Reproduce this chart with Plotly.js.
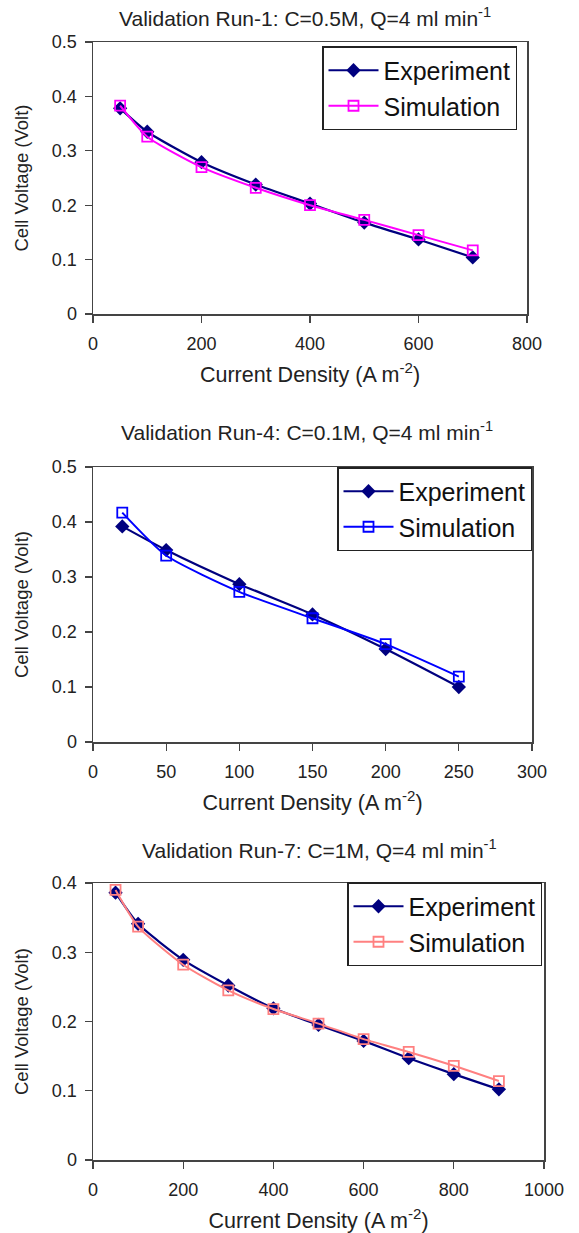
<!DOCTYPE html>
<html>
<head>
<meta charset="utf-8">
<script src="https://cdn.plot.ly/plotly-3.0.1.min.js"></script>
<style>html,body{margin:0;padding:0;background:#fff;}#chart{width:579px;height:1233px;}</style>
</head>
<body>
<div id="chart"></div>
<script>
// ---- data ----
const run1X = [50, 100, 200, 300, 400, 500, 600, 700];
const run1Exp = [0.378, 0.335, 0.279, 0.238, 0.203, 0.168, 0.137, 0.104];
const run1Sim = [0.383, 0.326, 0.270, 0.232, 0.200, 0.173, 0.145, 0.117];

const run4X = [20, 50, 100, 150, 200, 250];
const run4Exp = [0.392, 0.349, 0.287, 0.232, 0.169, 0.100];
const run4Sim = [0.417, 0.339, 0.273, 0.225, 0.178, 0.119];

const run7X = [50, 100, 200, 300, 400, 500, 600, 700, 800, 900];
const run7Exp = [0.386, 0.341, 0.289, 0.252, 0.219, 0.195, 0.172, 0.147, 0.124, 0.102];
const run7Sim = [0.390, 0.337, 0.282, 0.245, 0.218, 0.197, 0.1745, 0.156, 0.136, 0.114];

const panelTitles = [
  "Validation Run-1: C=0.5M, Q=4 ml min<sup>-1</sup>",
  "Validation Run-4: C=0.1M, Q=4 ml min<sup>-1</sup>",
  "Validation Run-7: C=1M, Q=4 ml min<sup>-1</sup>"
];
const xTitle = "Current Density (A m<sup>-2</sup>)";
const yTitle = "Cell Voltage (Volt)";
const seriesNames = ["Experiment", "Simulation"];
const simColors = ["#ff00ff", "#0000ff", "#ff8080"];
const expColor = "#00007f";

// ---- layout geometry (px) ----
const W = 579, H = 1233;
const panels = [
  {x: run1X, e: run1Exp, s: run1Sim, left: 93, right: 527, top: 42, bottom: 314, xr: [0, 800], xd: 200, yr: [0, 0.5],
   titleY: 17, titleX: 305, legL: 322, legT: 46},
  {x: run4X, e: run4Exp, s: run4Sim, left: 93, right: 532, top: 467, bottom: 742, xr: [0, 300], xd: 50, yr: [0, 0.5],
   titleY: 431, titleX: 307, legL: 337, legT: 467},
  {x: run7X, e: run7Exp, s: run7Sim, left: 93, right: 544, top: 883, bottom: 1160, xr: [0, 1000], xd: 200, yr: [0, 0.4],
   titleY: 849, titleX: 319, legL: 347, legT: 882}
];

const FONT = "Liberation Sans, Arial, sans-serif";
const traces = [];
const layout = {
  width: W, height: H,
  margin: {l: 0, r: 0, t: 0, b: 0},
  paper_bgcolor: "#fff", plot_bgcolor: "#fff",
  font: {family: FONT, color: "#111"},
  showlegend: true,
  annotations: []
};

panels.forEach((p, i) => {
  const n = i === 0 ? "" : String(i + 1);
  const xa = "x" + n, ya = "y" + n;
  const leg = "legend" + n;
  traces.push({
    x: p.x, y: p.e, xaxis: xa, yaxis: ya, legend: leg, name: seriesNames[0],
    mode: "lines+markers", type: "scatter",
    line: {color: expColor, width: 2.2, shape: "spline", smoothing: 0.6},
    marker: {symbol: "diamond", size: 11, color: expColor}
  });
  traces.push({
    x: p.x, y: p.s, xaxis: xa, yaxis: ya, legend: leg, name: seriesNames[1],
    mode: "lines+markers", type: "scatter",
    line: {color: simColors[i], width: 2, shape: "spline", smoothing: 0.6},
    marker: {symbol: "square-open", size: 10, color: simColors[i], line: {width: 1.8, color: simColors[i]}}
  });
  const axCommon = {
    showgrid: false, zeroline: false, showline: true, linecolor: "#444", linewidth: 1.5,
    mirror: true, ticks: "outside", ticklen: 7, tickwidth: 1.3, tickcolor: "#444",
    tickfont: {family: FONT, size: 18, color: "#222"}, fixedrange: true
  };
  layout["xaxis" + n] = Object.assign({}, axCommon, {
    domain: [p.left / W, p.right / W], anchor: ya, range: p.xr, dtick: p.xd, tick0: 0,
    ticklabelstandoff: 6,
    title: {text: xTitle, standoff: 14, font: {family: FONT, size: 21.5, color: "#222"}}
  });
  layout["yaxis" + n] = Object.assign({}, axCommon, {
    domain: [1 - p.bottom / H, 1 - p.top / H], anchor: xa, range: p.yr, dtick: 0.1, tick0: 0,
    ticklabelstandoff: 4,
    title: {text: yTitle, standoff: 18, font: {family: FONT, size: 18.5, color: "#222"}}
  });
  layout[leg] = {
    x: p.legL / W, y: 1 - p.legT / H, xanchor: "left", yanchor: "top",
    xref: "paper", yref: "paper",
    bgcolor: "#fff", bordercolor: "#222", borderwidth: 1.5,
    font: {family: FONT, size: 25, color: "#111"},
    itemwidth: 50, tracegroupgap: 0
  };
  layout.annotations.push({
    text: panelTitles[i], xref: "paper", yref: "paper", x: p.titleX / W, y: 1 - p.titleY / H,
    xanchor: "center", yanchor: "middle", showarrow: false,
    font: {family: FONT, size: 21, color: "#222"}
  });
});

Plotly.newPlot("chart", traces, layout, {displayModeBar: false, staticPlot: true});
</script>
</body>
</html>
